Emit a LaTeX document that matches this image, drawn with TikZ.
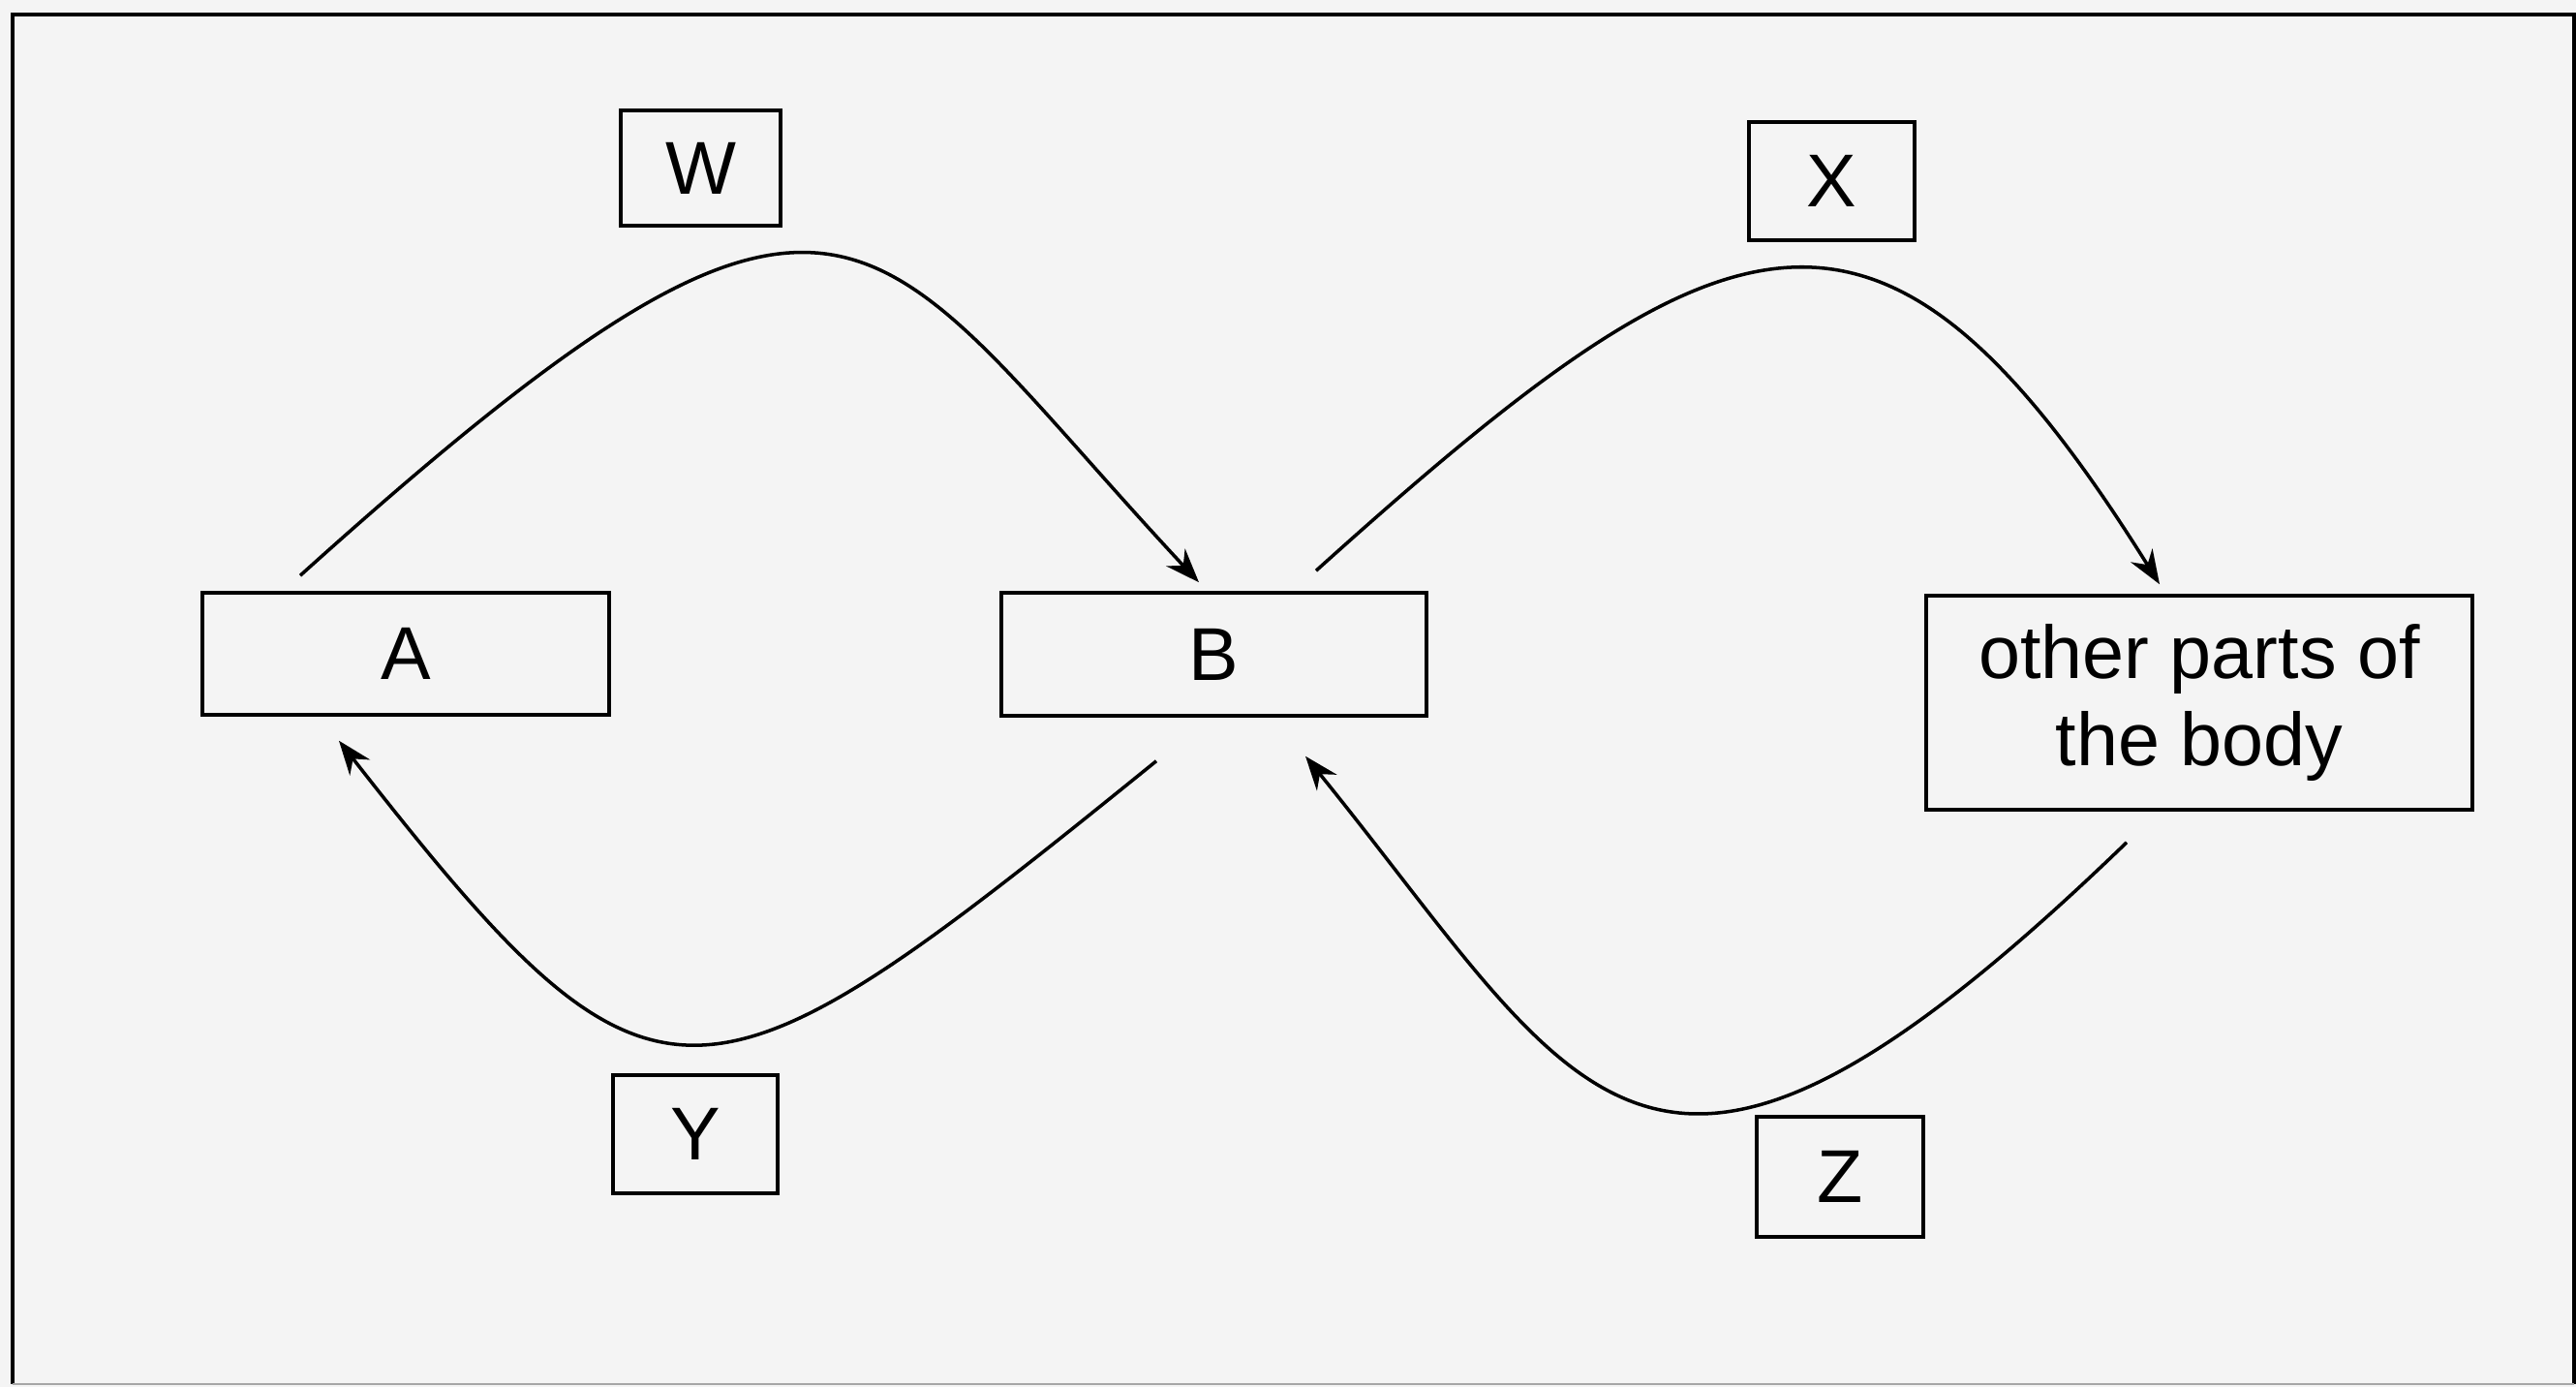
\documentclass[tikz,border=0pt]{standalone}
\usepackage{fontspec}
\setmainfont{Liberation Sans}
\usetikzlibrary{arrows.meta}
\definecolor{paper}{HTML}{F4F4F4}
\begin{document}
\begin{tikzpicture}[x=1cm,y=1cm,
  box/.style={draw,line width=1pt,inner sep=0pt,align=center,font=\fontsize{22}{25.6}\selectfont},
  flow/.style={line width=1pt,-{Stealth[length=10pt,width=7.5pt]}}]
\path[use as bounding box,fill=paper] (0,0) rectangle (26.6,14.32);
\draw[line width=1.3pt] (0.13,0.03) |- (26.58,14.17) -- (26.58,0.03);
\draw[line width=0.4pt,black!35] (0.13,0.03) -- (26.58,0.03);
\node[box,minimum width=4.2cm,minimum height=1.26cm] (A) at (4.19,7.57) {A};
\node[box,minimum width=4.39cm,minimum height=1.27cm] (B) at (12.535,7.565) {B};
\node[box,minimum width=5.64cm,minimum height=2.21cm] (body) at (22.71,7.065) {other parts of\\the body};
\node[box,minimum width=1.65cm,minimum height=1.19cm] (W) at (7.235,12.585) {W};
\node[box,minimum width=1.71cm,minimum height=1.22cm] (X) at (18.915,12.45) {X};
\node[box,minimum width=1.70cm,minimum height=1.22cm] (Y) at (7.18,2.61) {Y};
\node[box,minimum width=1.72cm,minimum height=1.24cm] (Z) at (19.00,2.17) {Z};
\draw[flow] ([shift={(-1.09,0.16)}]A.north) .. controls +(42:7.70) and +(133:5.10) .. ([shift={(-0.155,0.09)}]B.north);
\draw[flow] ([shift={(1.055,0.21)}]B.north) .. controls +(42:5.75) and +(122:5.45) .. ([shift={(-0.41,0.10)}]body.north);
\draw[flow] ([shift={(-0.595,-0.45)}]B.south) .. controls +(219:6.10) and +(-52:5.34) .. ([shift={(-0.69,-0.25)}]A.south);
\draw[flow] ([shift={(-0.75,-0.32)}]body.south) .. controls +(224:6.90) and +(-51:4.60) .. ([shift={(0.945,-0.40)}]B.south);
\end{tikzpicture}
\end{document}
